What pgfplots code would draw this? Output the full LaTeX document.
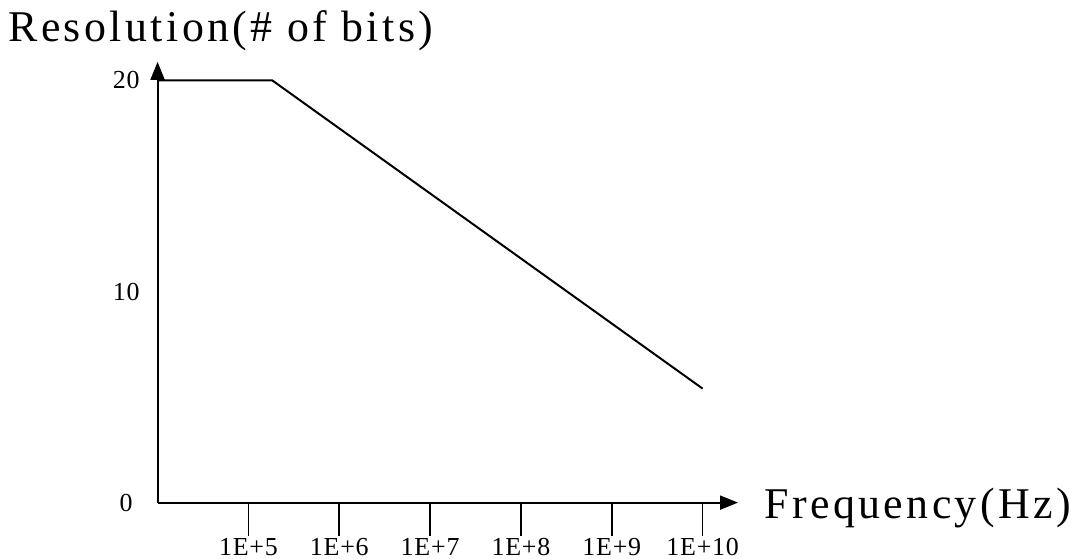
\documentclass[border=0pt]{standalone}
\usepackage{fontspec}
\setmainfont{Liberation Serif}
\newfontfamily\bigfont[LetterSpace=7.8]{Liberation Serif}
\newfontfamily\tickfont[LetterSpace=3]{Liberation Serif}
\usepackage{pgfplots}
\pgfplotsset{compat=1.18}
\usetikzlibrary{arrows.meta}
\begin{document}
\begin{tikzpicture}
\begin{axis}[
  scale only axis,
  width=291pt, height=221pt,
  xmode=log,
  xmin=1e4, xmax=2.45e10,
  ymin=0, ymax=20.88,
  enlargelimits=false,
  axis lines=left,
  axis line style={line width=1pt},
  every outer x axis line/.append style={-{Triangle[length=9pt,width=7pt]}},
  every outer y axis line/.append style={-{Triangle[length=9pt,width=7pt]}},
  xtick={1e5,1e6,1e7,1e8,1e9,1e10},
  xticklabels={1E+5,1E+6,1E+7,1E+8,1E+9,1E+10},
  xminorticks=false,
  x tick style={line width=0.8pt, black},
  xtick align=outside,
  x tick label style={font=\tickfont\fontsize{13}{15}\selectfont, inner sep=0pt, anchor=north, text height=8.8pt, text depth=0pt, yshift=-1pt},
  major tick length=16.5pt,
  ytick={0,10,20},
  y tick style={draw=none},
  y tick label style={font=\tickfont\fontsize{13}{15}\selectfont, inner sep=0pt, anchor=center, xshift=-7.5pt},
  /pgf/number format/assume math mode=true,
  clip=false,
]
\addplot[black, line width=1pt] coordinates {(1e4,20) (1.83e5,20) (1e10,5.4)};
\coordinate (O) at (rel axis cs:0,0);
\end{axis}
\node[anchor=base west, inner sep=0pt, font=\bigfont\fontsize{22}{26}\selectfont] at ([xshift=-75pt,yshift=231pt]O) {Resolution(\# of bits)};
\node[anchor=base west, inner sep=0pt, font=\bigfont\fontsize{22}{26}\selectfont] at ([xshift=304pt,yshift=-8pt]O) {Frequency(Hz)};
\path[use as bounding box] ([xshift=-79pt,yshift=-28pt]O) rectangle ++(535.5pt,280pt);
\end{tikzpicture}
\end{document}
